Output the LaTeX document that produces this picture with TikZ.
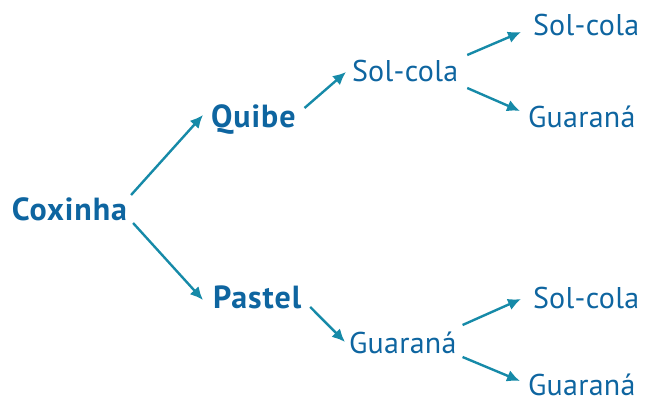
\documentclass[tikz,border=0pt]{standalone}
\usepackage{fontspec}
\setmainfont{PT Sans}
\usetikzlibrary{arrows.meta}
\definecolor{txtblue}{RGB}{14,101,160}
\definecolor{arrteal}{RGB}{22,138,168}
\tikzset{
  lbl/.style={inner sep=0pt, outer sep=0pt, anchor=base west, text=txtblue, font=\fontsize{30}{30}\selectfont\addfontfeature{LetterSpace=1}},
  blbl/.style={lbl, font=\fontsize{32}{32}\selectfont\bfseries\addfontfeature{LetterSpace=3}},
  arr/.style={draw=arrteal, line width=2.4pt, -{Latex[length=13pt,width=12pt]}}
}
\begin{document}
\begin{tikzpicture}[x=1pt,y=-1pt]
\useasboundingbox (0,0) rectangle (647,401);
\node[blbl] (cox) at (12,220) {Coxinha};
\node[blbl] (qui) at (211,128) {Quibe};
\node[blbl] (pas) at (213,308) {Pastel};
\node[lbl] (sc1) at (352,82) {Sol-cola};
\node[lbl] (g1) at (349,353) {Guaraná};
\node[lbl] (sc2) at (533,36) {Sol-cola};
\node[lbl] (g2) at (528,127) {Guaraná};
\node[lbl] (sc3) at (533,308) {Sol-cola};
\node[lbl, text depth=0pt] (g3) at (528,395) {Guaraná};
\draw[arr] ([shift={(4,-25)}]cox.base east) -- ([shift={(-8,-13)}]qui.base west);
\draw[arr] ([shift={(6,3)}]cox.base east) -- ([shift={(-10,-8)}]pas.base west);
\draw[arr] ([shift={(9,-20)}]qui.base east) -- ([shift={(-6,-10)}]sc1.base west);
\draw[arr] ([shift={(9,-27)}]sc1.base east) -- ([shift={(-12,-4)}]sc2.base west);
\draw[arr] ([shift={(9,6)}]sc1.base east) -- ([shift={(-8,-16)}]g2.base west);
\draw[arr] ([shift={(9,-1)}]pas.base east) -- ([shift={(-4,-11)}]g1.base west);
\draw[arr] ([shift={(6,-28)}]g1.base east) -- ([shift={(-12,-9)}]sc3.base west);
\draw[arr] ([shift={(6,4)}]g1.base east) -- ([shift={(-8,-14)}]g3.base west);
\end{tikzpicture}
\end{document}
